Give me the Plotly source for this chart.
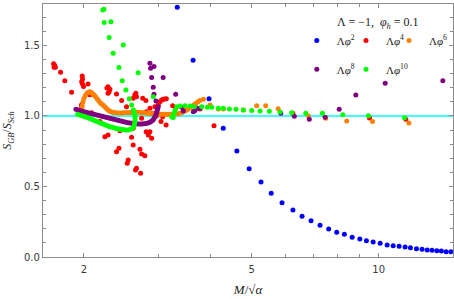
import plotly.graph_objects as go

# ---------------- data ----------------
phi2_x = [3.33, 3.63, 3.96, 4.28, 4.61, 4.93, 5.26, 5.56, 5.90, 6.26, 6.58, 6.91, 7.26, 7.61,
          7.95, 8.29, 8.65, 9.02, 9.35, 9.70, 10.08, 10.47, 10.82, 11.18, 11.55, 11.89, 12.29,
          12.67, 13.03, 13.38, 13.73, 14.08, 14.45, 14.83]
phi2_y = [1.771, 1.395, 1.122, 0.913, 0.752, 0.626, 0.532, 0.452, 0.385, 0.333, 0.289, 0.257,
          0.225, 0.199, 0.175, 0.161, 0.140, 0.128, 0.116, 0.106, 0.097, 0.085, 0.080, 0.076,
          0.071, 0.066, 0.059, 0.055, 0.050, 0.048, 0.045, 0.043, 0.038, 0.038]

phi4_x = [1.695, 1.705, 1.712, 1.700, 1.761, 1.802, 1.870, 1.982, 1.985, 1.976, 1.985, 1.996,
          2.046, 2.066, 1.975, 1.974, 2.085, 2.183, 2.243, 2.282, 2.282, 2.305, 2.296, 2.282,
          2.268, 2.390, 2.458, 2.641, 2.665, 2.618, 2.656, 2.524, 2.806, 2.595, 2.435, 2.618,
          2.422, 2.390, 2.716, 2.741, 2.790, 2.547, 2.534, 2.665, 2.651, 2.726, 2.842, 2.895,
          2.868, 2.618, 2.810, 2.810, 2.757, 2.868, 2.947, 2.921, 2.741, 3.030, 3.058, 3.109,
          3.137, 3.083, 3.002, 3.247, 2.976, 3.047, 3.133, 3.305, 3.441, 4.069, 3.075, 3.770,
          6.255, 9.51, 11.59]
phi4_y = [1.370, 1.360, 1.345, 1.345, 1.310, 1.250, 1.169, 1.284, 1.260, 1.243, 1.227, 1.209,
          1.227, 1.151, 1.055, 1.078, 1.023, 0.960, 0.853, 0.865, 1.208, 1.189, 1.172, 1.161,
          1.199, 1.156, 1.109, 1.149, 1.137, 1.126, 1.161, 1.066, 1.109, 0.849, 0.896, 0.794,
          0.771, 0.747, 0.764, 0.730, 0.718, 0.688, 0.665, 0.629, 0.617, 0.594, 0.865, 0.842,
          0.889, 0.913, 0.889, 1.030, 1.126, 1.055, 1.066, 1.019, 0.984, 1.101, 1.113, 1.121,
          1.123, 1.118, 1.078, 1.073, 1.002, 0.960, 0.936, 1.059, 1.059, 0.931, 0.995, 1.050,
          1.019, 0.986, 0.977]

phi6_x = [1.978, 1.982, 1.989, 2.000, 2.016, 2.033, 2.050, 2.066, 2.083, 2.100, 2.117, 2.134,
          2.152, 2.170, 2.189, 2.208, 2.226, 2.245, 2.263, 2.282, 2.299, 2.318, 2.337, 2.356,
          2.381, 2.407, 2.435, 2.462, 2.488, 2.515, 2.543, 2.571, 2.599, 2.627, 2.656, 2.686,
          2.716, 2.746, 2.776, 2.807, 2.837, 2.868, 2.900, 2.932, 2.964, 2.997, 3.030, 3.063,
          3.097, 3.131, 3.165, 3.200, 3.235, 3.271, 3.307, 3.343, 3.380, 3.417, 3.455, 3.493,
          3.531, 3.570, 3.609, 3.649, 3.689, 3.729, 3.770, 3.840, 3.982, 4.166, 4.281, 4.776,
          5.136, 5.396, 5.776, 6.806, 7.489, 8.397, 9.664, 11.79]
phi6_y = [1.043, 1.071, 1.099, 1.124, 1.145, 1.161, 1.169, 1.172, 1.167, 1.157, 1.147, 1.135,
          1.121, 1.106, 1.092, 1.083, 1.074, 1.064, 1.053, 1.043, 1.035, 1.030, 1.026, 1.024,
          1.023, 1.021, 1.021, 1.021, 1.023, 1.023, 1.023, 1.024, 1.025, 1.026, 1.026, 1.026,
          1.025, 1.023, 1.022, 1.021, 1.019, 1.018, 1.017, 1.016, 1.014, 1.014, 1.013, 1.012,
          1.012, 1.012, 1.012, 1.012, 1.012, 1.013, 1.014, 1.016, 1.019, 1.024, 1.031, 1.039,
          1.048, 1.058, 1.069, 1.080, 1.091, 1.101, 1.110, 1.118, 1.078, 1.050, 1.050, 1.043,
          1.073, 1.073, 1.052, 1.002, 0.984, 0.965, 0.960, 0.950]

phi8_x = [1.915, 1.936, 1.957, 1.979, 2.000, 2.022, 2.044, 2.066, 2.089, 2.112, 2.135, 2.158,
          2.183, 2.207, 2.231, 2.256, 2.281, 2.305, 2.331, 2.357, 2.382, 2.408, 2.435, 2.462,
          2.488, 2.515, 2.543, 2.571, 2.599, 2.627, 2.656, 2.686, 2.716, 2.746, 2.776, 2.807,
          2.837, 2.868, 2.892, 2.916, 2.932, 2.948, 2.964, 2.975, 2.985, 2.993, 3.000, 2.964,
          2.932, 2.921, 2.895, 3.083, 2.868, 2.879, 2.932, 3.301, 3.411, 3.441, 3.635, 3.668,
          3.700, 3.770, 5.858, 6.309, 6.846, 7.463, 8.059, 8.825, 10.36, 14.19]
phi8_y = [1.048, 1.043, 1.038, 1.034, 1.030, 1.027, 1.023, 1.019, 1.016, 1.012, 1.009, 1.005,
          1.001, 0.998, 0.994, 0.991, 0.987, 0.984, 0.980, 0.977, 0.973, 0.970, 0.966, 0.962,
          0.959, 0.955, 0.952, 0.950, 0.948, 0.946, 0.945, 0.943, 0.943, 0.943, 0.945, 0.947,
          0.950, 0.955, 0.962, 0.972, 0.982, 0.995, 1.011, 1.025, 1.039, 1.053, 1.066, 1.106,
          1.154, 1.204, 1.272, 1.272, 1.374, 1.338, 1.350, 1.154, 1.062, 1.035, 1.030, 1.039,
          1.055, 1.055, 1.019, 0.998, 0.977, 0.991, 1.048, 1.149, 1.232, 1.250]

phi10_x = [1.933, 1.957, 1.979, 2.000, 2.022, 2.044, 2.066, 2.089, 2.112, 2.135, 2.158, 2.183,
           2.207, 2.231, 2.256, 2.281, 2.305, 2.331, 2.357, 2.382, 2.408, 2.435, 2.462, 2.488,
           2.515, 2.543, 2.571, 2.599, 2.620, 2.634, 2.641, 2.645, 2.645, 2.641, 2.631, 2.620,
           2.595, 2.563, 2.515, 2.466, 2.422, 2.690, 2.347, 2.479, 2.296, 2.318, 2.234, 2.217,
           2.231, 2.921, 3.230, 3.257, 3.275, 3.288, 3.318, 3.380, 3.474, 3.570, 3.654, 3.805,
           3.924, 4.019, 4.166, 4.281, 4.427, 4.589, 4.776, 5.000, 5.232, 5.505, 5.836, 6.221,
           6.716, 7.354, 8.220, 9.455, 11.51]
phi10_y = [1.012, 1.007, 1.002, 0.998, 0.993, 0.988, 0.982, 0.977, 0.970, 0.965, 0.959, 0.952,
           0.947, 0.941, 0.935, 0.929, 0.924, 0.920, 0.916, 0.912, 0.909, 0.906, 0.904, 0.902,
           0.901, 0.901, 0.904, 0.909, 0.920, 0.936, 0.954, 0.972, 0.989, 1.007, 1.025, 1.043,
           1.078, 1.123, 1.184, 1.250, 1.343, 1.307, 1.445, 1.504, 1.557, 1.669, 1.662, 1.752,
           1.757, 1.137, 0.995, 0.989, 1.019, 1.039, 1.066, 1.071, 1.073, 1.071, 1.066, 1.066,
           1.062, 1.062, 1.055, 1.055, 1.050, 1.048, 1.043, 1.038, 1.035, 1.033, 1.028, 1.023,
           1.019, 1.019, 1.009, 1.002, 0.988]

series = [
    ("Λ<i>φ</i><sup>2</sup>", phi2_x, phi2_y, "#0000ff", "legend"),
    ("Λ<i>φ</i><sup>4</sup>", phi4_x, phi4_y, "#ff0000", "legend2"),
    ("Λ<i>φ</i><sup>6</sup>", phi6_x, phi6_y, "#ff8000", "legend3"),
    ("Λ<i>φ</i><sup>8</sup>", phi8_x, phi8_y, "#800080", "legend4"),
    ("Λ<i>φ</i><sup>10</sup>", phi10_x, phi10_y, "#00ff00", "legend5"),
]
legend_title = "Λ = −1,  <i>φ</i><sub><i>h</i></sub> = 0.1"

x_ticks = [2, 5, 10]
x_minor = [3, 4, 6, 7, 8, 9]
y_ticks = [0.0, 0.5, 1.0, 1.5]
y_ticklabels = ["0.0", "0.5", "1.0", "1.5"]

# ---------------- figure ----------------
fig = go.Figure()
for name, xs, ys, col, lg in series:
    fig.add_trace(go.Scatter(x=xs, y=ys, mode="markers", name=name, legend=lg,
                             marker=dict(color=col, size=5, line=dict(width=0))))

fig.add_hline(y=1.0, line=dict(color="#00ffff", width=1.5), layer="below")

axis_col = "#8c8c8c"
tick_font = dict(family="DejaVu Sans", size=10, color="#3a3a3a")
serif = "Liberation Serif"
leg_font = dict(family=serif, size=11, color="#222")


def leg(x, y, anchor="left"):
    return dict(orientation="v", x=x, y=y, xanchor=anchor, yanchor="top",
                bgcolor="rgba(0,0,0,0)", font=leg_font, itemclick=False)


col_x = [0.619, 0.739]
row_y = [0.913, 0.799]

fig.update_layout(
    width=454, height=299,
    margin=dict(l=43, r=1, t=4, b=42),
    paper_bgcolor="white", plot_bgcolor="white",
    font=dict(family=serif, size=12, color="#222"),
    showlegend=True,
    legend=leg(col_x[0], row_y[0]),
    legend2=leg(col_x[1], row_y[0]),
    legend3=leg(1.0, row_y[0], "right"),
    legend4=leg(col_x[0], row_y[1]),
    legend5=leg(col_x[1], row_y[1]),
    annotations=[dict(text=legend_title, xref="paper", yref="paper", x=0.817, y=0.925,
                      xanchor="center", yanchor="middle", showarrow=False,
                      font=dict(family=serif, size=12, color="#222"))],
    xaxis=dict(type="log", range=[0.2041, 1.1761], tickvals=x_ticks, ticktext=[str(v) for v in x_ticks],
               automargin=False, ticklabelstandoff=3,
               showgrid=False, zeroline=False, showline=True, linecolor=axis_col, linewidth=1.3,
               mirror="allticks", ticks="inside", ticklen=4, tickcolor=axis_col, tickwidth=1,
               tickfont=tick_font,
               minor=dict(tickvals=x_minor, ticks="inside", ticklen=2.5, tickcolor=axis_col, showgrid=False),
               title=dict(text="<i>M</i>/√<i>α</i>", font=dict(family=serif, size=13, color="#222"), standoff=10)),
    yaxis=dict(range=[0, 1.794], tickvals=y_ticks, ticktext=y_ticklabels,
               automargin=False,
               showgrid=False, zeroline=False, showline=True, linecolor=axis_col, linewidth=1.3,
               mirror="allticks", ticks="inside", ticklen=4, tickcolor=axis_col, tickwidth=1,
               tickfont=tick_font,
               minor=dict(dtick=0.1, tick0=0, ticks="inside", ticklen=2.5, tickcolor=axis_col, showgrid=False),
               title=dict(text="<i>S</i><sub><i>GB</i></sub>/<i>S</i><sub><i>Sch</i></sub>",
                          font=dict(family=serif, size=12, color="#222"), standoff=10)),
)

fig.write_html("out.html", config={"displayModeBar": False},
               post_script="document.body.style.margin='0px';")
